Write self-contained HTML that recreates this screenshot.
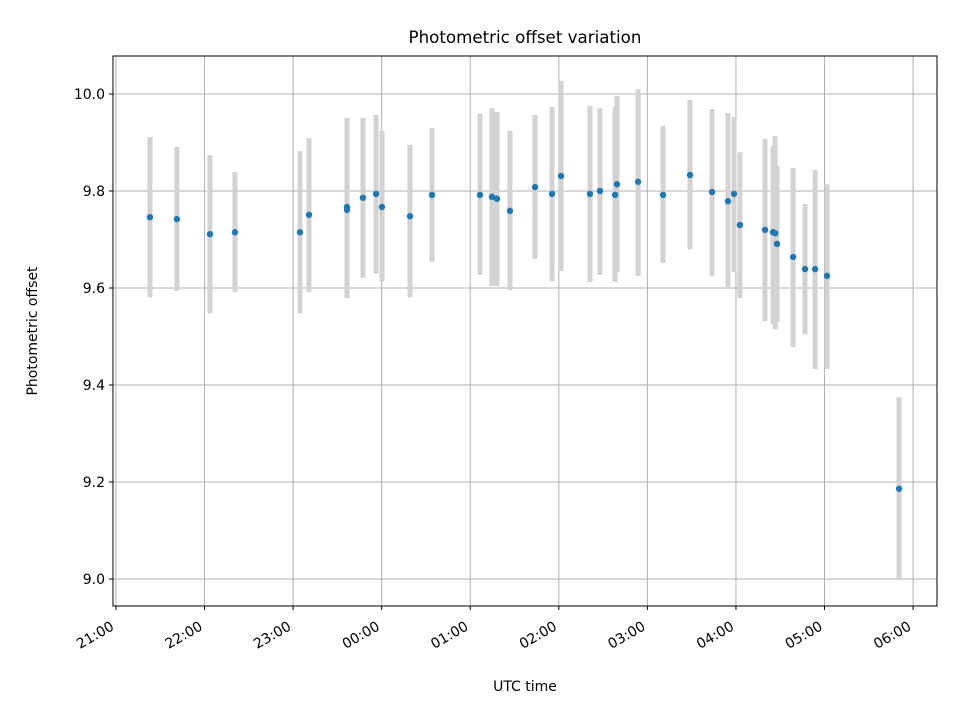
<!DOCTYPE html>
<html><head><meta charset="utf-8"><style>
body{margin:0;background:#fff}
svg{display:block;font-family:"DejaVu Sans","Liberation Sans",sans-serif}
</style></head><body>
<svg id="chart" width="960" height="720">
<text x="525" y="43" font-size="16.7" text-anchor="middle">Photometric offset variation</text>
<text x="525" y="691" font-size="14" text-anchor="middle">UTC time</text>
<text transform="translate(37,331) rotate(-90)" font-size="14" text-anchor="middle">Photometric offset</text>
<g id="grid"></g><g id="bars"></g><g id="pts"></g><g id="ticks"></g>
<rect x="113" y="56" width="824" height="550" fill="none" stroke="#000" stroke-width="1"/>
</svg>
<script>
// minutes after 21:00 UTC
const times=[23,41.3,63.7,80.6,124.7,130.8,156.5,156.5,167.3,176.2,180.2,199.2,214.1,246.6,254.7,258.1,266.9,283.9,295.4,301.5,321.1,327.9,338.1,339.4,353.7,370.6,388.9,403.8,414.6,418.7,422.7,439.7,445.1,446.5,447.8,458.7,466.8,473.6,481.7,530.5];
const offsets=[9.746,9.742,9.711,9.715,9.715,9.751,9.767,9.761,9.786,9.794,9.767,9.748,9.792,9.792,9.788,9.784,9.759,9.808,9.794,9.831,9.794,9.800,9.792,9.814,9.819,9.792,9.833,9.798,9.779,9.794,9.730,9.720,9.715,9.713,9.691,9.664,9.639,9.639,9.625,9.186];
const highs=[9.911,9.891,9.874,9.839,9.882,9.909,9.951,9.951,9.951,9.957,9.924,9.895,9.930,9.959,9.971,9.963,9.924,9.957,9.973,10.027,9.975,9.971,9.973,9.996,10.010,9.934,9.988,9.969,9.961,9.953,9.880,9.907,9.893,9.913,9.852,9.847,9.773,9.843,9.814,9.375];
const lows=[9.581,9.594,9.548,9.592,9.548,9.592,9.579,9.579,9.621,9.629,9.614,9.581,9.654,9.627,9.604,9.604,9.596,9.660,9.614,9.635,9.612,9.627,9.612,9.633,9.625,9.652,9.680,9.625,9.598,9.633,9.579,9.532,9.526,9.515,9.530,9.478,9.505,9.433,9.433,8.998];
const xTicks=["21:00","22:00","23:00","00:00","01:00","02:00","03:00","04:00","05:00","06:00"];
const yTicks=[9.0,9.2,9.4,9.6,9.8,10.0];
const NS="http://www.w3.org/2000/svg";
const L=113,R=937,T=56,B=606,xMin=-2.0,xMax=556.2;
const X=m=>L+(m-xMin)/(xMax-xMin)*(R-L);
const Y=v=>94+(10-v)/1.0*485;
function mk(p,tag,a){const e=document.createElementNS(NS,tag);for(const k in a)e.setAttribute(k,a[k]);p.appendChild(e);return e;}
const g=document.getElementById('grid'),tk=document.getElementById('ticks');
xTicks.forEach((lab,i)=>{const x=X(i*60);
 const l=mk(g,'line',{x1:x,x2:x,y1:T,y2:B,stroke:'#b0b0b0','stroke-width':1});
 
 
 mk(tk,'line',{x1:x,x2:x,y1:B,y2:B+4,stroke:'#000'});
 const t=mk(tk,'text',{x:0,y:0,'font-size':14,'text-anchor':'end',transform:`translate(${x-1},${B+23}) rotate(-30)`});
 t.textContent=lab;
 
 
});
yTicks.forEach(v=>{const y=Y(v);
 const l=mk(g,'line',{x1:L,x2:R,y1:y,y2:y,stroke:'#b0b0b0','stroke-width':1});
 
 
 mk(tk,'line',{x1:L-4,x2:L,y1:y,y2:y,stroke:'#000'});
 const t=mk(tk,'text',{x:L-8,y:y+5,'font-size':14,'text-anchor':'end'});
 t.textContent=v.toFixed(1);
 
 
});
const bg=document.getElementById('bars'),pg=document.getElementById('pts');
times.forEach((m,i)=>{const x=X(m);
 const b=mk(bg,'line',{x1:x,x2:x,y1:Y(highs[i]),y2:Y(lows[i]),stroke:'#d3d3d3','stroke-width':5});
 
 
 const c=mk(pg,'circle',{cx:x,cy:Y(offsets[i]),r:3.2,fill:'#1f77b4'});
 
 
});
</script>
</body></html>
